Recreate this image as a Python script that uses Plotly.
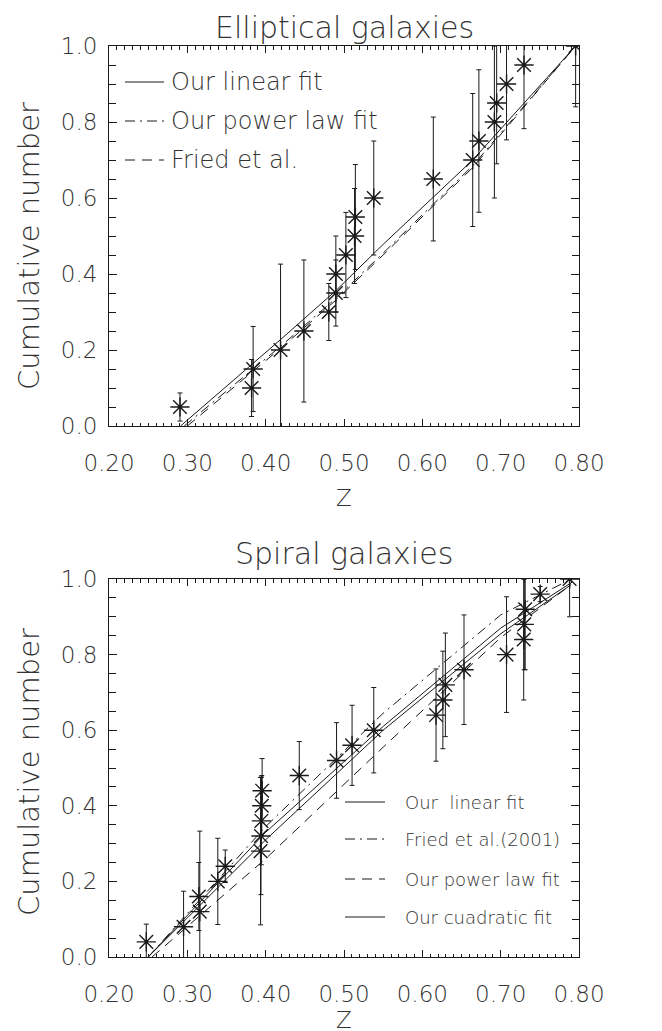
import plotly.graph_objects as go

# ---------------- data ----------------
ell_z = [0.2906, 0.382, 0.384, 0.419, 0.4488, 0.4806, 0.4896, 0.4896, 0.5024, 0.5135,
         0.5145, 0.538, 0.614, 0.6643, 0.6722, 0.692, 0.6949, 0.7075, 0.7298, 0.7957]
ell_n = [0.05, 0.10, 0.15, 0.20, 0.25, 0.30, 0.35, 0.40, 0.45, 0.50,
         0.55, 0.60, 0.65, 0.70, 0.75, 0.80, 0.85, 0.90, 0.95, 1.00]
ell_err = [0.037, 0.075, 0.112, 0.226, 0.187, 0.075, 0.087, 0.10, 0.112, 0.125,
           0.138, 0.15, 0.163, 0.175, 0.1875, 0.20, 0.16, 0.147, 0.1675, 0.16]

ell_lin_z = [0.2913, 0.4193, 0.489, 0.55, 0.6643, 0.7957]
ell_lin_n = [0.0, 0.228, 0.355, 0.478, 0.70, 1.0]
ell_pow_z = [0.296, 0.4193, 0.489, 0.55, 0.6643, 0.7957]
ell_pow_n = [0.0, 0.21, 0.335, 0.455, 0.685, 1.0]
ell_fried_z = [0.300, 0.4193, 0.489, 0.55, 0.6643, 0.7957]
ell_fried_n = [0.0, 0.205, 0.33, 0.45, 0.68, 1.0]

sp_z = [0.2476, 0.2952, 0.3159, 0.3147, 0.3389, 0.3484, 0.3935, 0.3940, 0.3945, 0.3950,
        0.3955, 0.4429, 0.4905, 0.5103, 0.538, 0.6175, 0.6262, 0.6294, 0.6532, 0.7075,
        0.7294, 0.7301, 0.7313, 0.7504, 0.788]
sp_n = [0.04, 0.08, 0.12, 0.16, 0.20, 0.24, 0.28, 0.32, 0.36, 0.40,
        0.44, 0.48, 0.52, 0.56, 0.60, 0.64, 0.68, 0.72, 0.76, 0.80,
        0.84, 0.88, 0.92, 0.96, 1.00]
sp_err = [0.047, 0.094, 0.213, 0.09, 0.114, 0.043, 0.195, 0.155, 0.116, 0.08,
          0.085, 0.09, 0.10, 0.106, 0.113, 0.122, 0.129, 0.137, 0.145, 0.153,
          0.16, 0.12, 0.16, 0.02, 0.10]

sp_lin_z = [0.250, 0.40, 0.55, 0.70, 0.79]
sp_lin_n = [0.0, 0.33, 0.61, 0.87, 0.99]
sp_fried_z = [0.250, 0.40, 0.55, 0.70, 0.79]
sp_fried_n = [0.0, 0.345, 0.645, 0.905, 1.0]
sp_pow_z = [0.255, 0.40, 0.55, 0.70, 0.79]
sp_pow_n = [0.0, 0.26, 0.555, 0.845, 0.985]
sp_quad_z = [0.250, 0.40, 0.55, 0.70, 0.79]
sp_quad_n = [0.0, 0.31, 0.60, 0.855, 0.985]

x_ticks = [0.20, 0.30, 0.40, 0.50, 0.60, 0.70, 0.80]
y_ticks = [0.0, 0.2, 0.4, 0.6, 0.8, 1.0]

# ---------------- layout geometry (pixels) ----------------
W, H = 662, 1031
L, R = 101, 571
T1, B1 = 38, 418      # top panel box
T2, B2 = 571, 949     # bottom panel box
FONT = "DejaVu Sans"
WT = 200
TXT = "#333333"
INK = "#1a1a1a"


def px(x):
    return (x - L) / (R - L)


def py(y):
    return (B2 - y) / (B2 - T1)


fig = go.Figure()

DASH = "10px,7px"
DASHDOT = "10px,5px,2px,5px"


def add_points(z, n, err, xa, ya):
    fig.add_trace(go.Scatter(
        x=z, y=n, mode="markers", xaxis=xa, yaxis=ya, showlegend=False,
        marker=dict(symbol="asterisk-open", size=16, color=INK,
                    line=dict(width=1.4, color=INK)),
        error_y=dict(type="data", array=err, visible=True, color=INK,
                     thickness=1, width=2.5)))


def add_line(z, n, dash, xa, ya):
    fig.add_trace(go.Scatter(
        x=z, y=n, mode="lines", xaxis=xa, yaxis=ya, showlegend=False,
        line=dict(color=INK, width=1, dash=dash)))


# top panel (Elliptical)
add_line(ell_lin_z, ell_lin_n, "solid", "x", "y")
add_line(ell_pow_z, ell_pow_n, DASHDOT, "x", "y")
add_line(ell_fried_z, ell_fried_n, DASH, "x", "y")
add_points(ell_z, ell_n, ell_err, "x", "y")

# bottom panel (Spiral)
add_line(sp_lin_z, sp_lin_n, "solid", "x2", "y2")
add_line(sp_fried_z, sp_fried_n, DASHDOT, "x2", "y2")
add_line(sp_pow_z, sp_pow_n, DASH, "x2", "y2")
add_line(sp_quad_z, sp_quad_n, "solid", "x2", "y2")
add_points(sp_z, sp_n, sp_err, "x2", "y2")

top_dom = [py(B1), 1.0]
bot_dom = [0.0, py(T2)]


def xaxis(anchor):
    return dict(range=[0.2, 0.8], domain=[0, 1], anchor=anchor,
                tickvals=x_ticks, tickformat=".2f",
                ticks="inside", ticklen=7, tickwidth=1, tickcolor=INK,
                minor=dict(dtick=0.01, tick0=0.2, ticks="inside", ticklen=3.5,
                           tickwidth=1, tickcolor=INK),
                showline=True, linecolor=INK, linewidth=1, mirror="ticks",
                showgrid=False, zeroline=False,
                tickfont=dict(family=FONT, size=23, color=TXT, weight=WT),
                ticklabelstandoff=16)


def yaxis(anchor, dom):
    return dict(range=[0, 1], domain=dom, anchor=anchor,
                tickvals=y_ticks, tickformat=".1f",
                ticks="inside", ticklen=8, tickwidth=1, tickcolor=INK,
                minor=dict(dtick=0.05, tick0=0, ticks="inside", ticklen=7,
                           tickwidth=1, tickcolor=INK),
                showline=True, linecolor=INK, linewidth=1, mirror="ticks",
                showgrid=False, zeroline=False,
                tickfont=dict(family=FONT, size=23, color=TXT, weight=WT),
                ticklabelstandoff=6)


annotations = []
shapes = []


def text(s, xpx, ypx, size, xanchor="center", angle=0, yanchor="middle"):
    annotations.append(dict(text=s, x=px(xpx), y=py(ypx), xref="paper", yref="paper",
                            xanchor=xanchor, yanchor=yanchor, showarrow=False,
                            textangle=angle,
                            font=dict(family=FONT, size=size, color=TXT, weight=WT)))


def sample(x0, x1, ypx, dash):
    shapes.append(dict(type="line", xref="paper", yref="paper",
                       x0=px(x0), x1=px(x1), y0=py(ypx), y1=py(ypx),
                       line=dict(color=INK, width=1, dash=dash)))


mid = (L + R) / 2

# titles and axis titles
text("Elliptical galaxies", mid, 0, 30, yanchor="top")
text("Spiral galaxies", mid, T2 - 26, 30)
text("Z", mid, B1 + 72, 23)
text("Z", mid, B2 + 63, 23)
text("Cumulative number", 21, (T1 + B1) / 2 + 10, 29, angle=-90)
text("Cumulative number", 21, (T2 + B2) / 2 + 4, 29, angle=-90)

# top legend
lx0, lx1, ltx = L + 16, L + 55, L + 60
sample(lx0, lx1, T1 + 36, "solid")
sample(lx0, lx1, T1 + 75, DASHDOT)
sample(lx0, lx1, T1 + 114, DASH)
text("Our linear fit", ltx, T1 + 36, 24, xanchor="left")
text("Our power law fit", ltx, T1 + 75, 24, xanchor="left")
text("Fried et al.", ltx, T1 + 114, 24, xanchor="left")

# bottom legend
bx0, bx1, btx = R - 234, R - 194, R - 176
sample(bx0, bx1, B2 - 155, "solid")
sample(bx0, bx1, B2 - 118, DASHDOT)
sample(bx0, bx1, B2 - 78, DASH)
sample(bx0, bx1, B2 - 40, "solid")
text("Our  linear fit", btx, B2 - 155, 18, xanchor="left")
text("Fried et al.(2001)", btx, B2 - 118, 18, xanchor="left")
text("Our power law fit", btx, B2 - 78, 18, xanchor="left")
text("Our cuadratic fit", btx, B2 - 40, 18, xanchor="left")

fig.update_layout(
    width=W, height=H, autosize=False,
    margin=dict(l=L, r=W - R, t=T1, b=H - B2, pad=0),
    paper_bgcolor="white", plot_bgcolor="white",
    xaxis=xaxis("y"), yaxis=yaxis("x", top_dom),
    xaxis2=xaxis("y2"), yaxis2=yaxis("x2", bot_dom),
    annotations=annotations, shapes=shapes,
    showlegend=False,
)

fig.write_html("out.html")
